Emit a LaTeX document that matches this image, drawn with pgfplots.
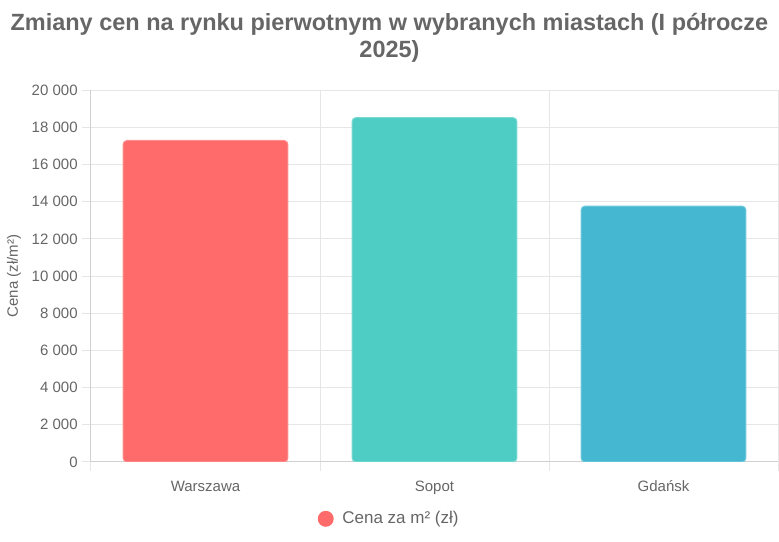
\documentclass[border=0pt]{standalone}
\usepackage{fontspec}
\setmainfont{Liberation Sans}
\usepackage{pgfplots}
\pgfplotsset{compat=1.18}

\definecolor{cred}{HTML}{FF6B6B}
\definecolor{cteal}{HTML}{4ECDC4}
\definecolor{cblue}{HTML}{45B7D1}
\definecolor{txt}{HTML}{666666}
\definecolor{gridc}{HTML}{E6E6E6}
\definecolor{axisc}{HTML}{D0D0D0}

\begin{document}
\begin{tikzpicture}
% canvas: 779 x 542 px at 0.75pt per px
\useasboundingbox (0,0) rectangle (584.25pt,406.5pt);
\node[anchor=base, text=txt, font=\fontsize{17.6}{21}\selectfont\bfseries]
  at (292.1pt,383.7pt) {Zmiany cen na rynku pierwotnym w wybranych miastach (I półrocze};
\node[anchor=base, text=txt, font=\fontsize{17.6}{21}\selectfont\bfseries]
  at (292.1pt,363.2pt) {2025)};
\begin{axis}[
  at={(68.25pt,60pt)}, anchor=south west,
  scale only axis,
  width=515.25pt, height=278.8pt,
  xmin=0, xmax=3, ymin=0, ymax=20000,
  axis x line*=bottom, axis y line*=left,
  axis line style={axisc, line width=0.75pt, -},
  xtick={0,1,2,3}, xticklabels={},
  extra x ticks={0.5,1.5,2.5},
  extra x tick labels={Warszawa,Sopot,Gdańsk},
  extra x tick style={grid=none, major tick length=0pt,
    xticklabel style={anchor=base, yshift=-22pt}},
  scaled y ticks=false,
  ytick={0,2000,...,20000},
  yticklabels={0,2~000,4~000,6~000,8~000,10~000,12~000,14~000,16~000,18~000,20~000},
  xmajorgrids, ymajorgrids,
  grid style={gridc, line width=0.75pt},
  tick style={gridc, line width=0.75pt},
  tick align=outside,
  major tick length=6.5pt,
  tick label style={text=txt, font=\fontsize{11.25}{13}\selectfont},
  ylabel={Cena (zł/m²)},
  ylabel style={at={(axis description cs:-0.1121,0.5)}, anchor=center,
    text=txt, font=\fontsize{11.25}{13}\selectfont},
  legend style={at={(axis description cs:0.4345,-0.1528)}, anchor=center,
    draw=none, fill=none, text=txt, font=\fontsize{12.75}{15}\selectfont,
    /tikz/every odd column/.append style={column sep=4.5pt}},
]
  \addplot[ybar, bar width=0.72, fill=cred, draw=cred!75!white, line width=0.75pt,
    rounded corners=3pt,
    legend image code/.code={\fill[cred] (0pt,0pt) circle (5.6pt);}]
    coordinates {(0.5,17300)};
  \addlegendentry{Cena za m² (zł)}
  \addplot[ybar, bar width=0.72, fill=cteal, draw=cteal!75!white, line width=0.75pt,
    rounded corners=3pt, forget plot]
    coordinates {(1.5,18530)};
  \addplot[ybar, bar width=0.72, fill=cblue, draw=cblue!75!white, line width=0.75pt,
    rounded corners=3pt, forget plot]
    coordinates {(2.5,13770)};
\end{axis}
\end{tikzpicture}
\end{document}
